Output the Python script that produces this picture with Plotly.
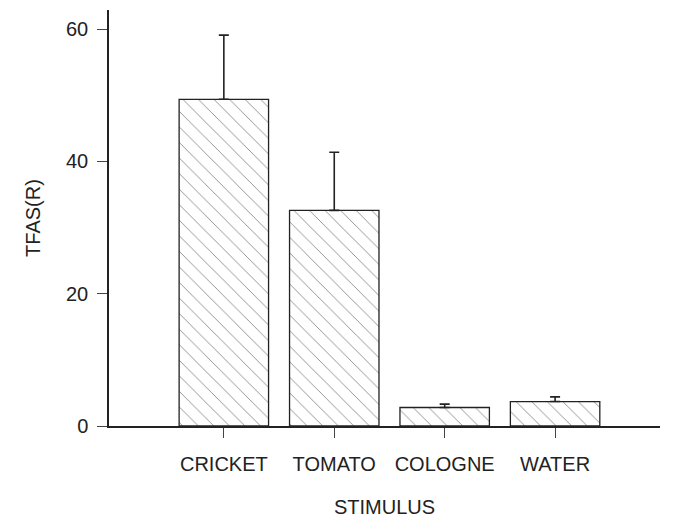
import plotly.graph_objects as go

categories = ["CRICKET", "TOMATO", "COLOGNE", "WATER"]
means = [49.4, 32.6, 2.8, 3.7]
errors_up = [9.7, 8.8, 0.5, 0.7]
y_ticks = [0, 20, 40, 60]

font = "Liberation Sans, Arial, sans-serif"

fig = go.Figure()
fig.add_trace(go.Bar(
    x=list(range(len(categories))),
    y=means,
    width=0.81,
    marker=dict(
        color="white",
        line=dict(color="#222", width=1.3),
        pattern=dict(shape="\\", fgcolor="#111", bgcolor="white", size=11, solidity=0.08),
    ),
    error_y=dict(type="data", symmetric=False, array=errors_up, arrayminus=[0]*4,
                 color="#222", thickness=1.6, width=5),
))

fig.update_layout(
    width=681, height=520,
    margin=dict(l=101, r=29, t=2, b=102),
    plot_bgcolor="white", paper_bgcolor="white",
    showlegend=False,
    font=dict(family=font, size=20, color="#222"),
    xaxis=dict(
        range=[-1.04, 3.95],
        tickmode="array", tickvals=list(range(len(categories))), ticktext=categories,
        showline=True, linecolor="#222", linewidth=1.5,
        ticks="outside", ticklen=10, tickcolor="#444", tickwidth=1,
        showgrid=False, zeroline=False,
        ticklabelstandoff=9,
        title=dict(text="STIMULUS", standoff=26, font=dict(size=20)),
    ),
    yaxis=dict(
        range=[0, 62.9],
        tickmode="array", tickvals=y_ticks,
        showline=True, linecolor="#222", linewidth=1.5,
        ticks="outside", ticklen=10, tickcolor="#444", tickwidth=1,
        showgrid=False, zeroline=False,
        ticklabelstandoff=5,
        title=dict(text="TFAS(R)", standoff=20, font=dict(size=20)),
    ),
)

fig.write_html("out.html")
